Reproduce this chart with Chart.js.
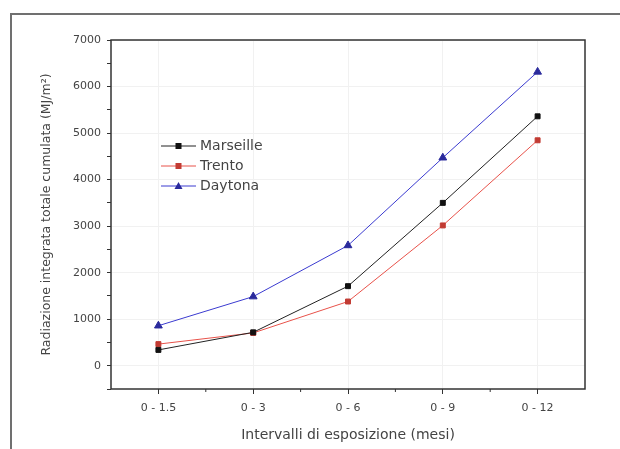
<!DOCTYPE html>
<html>
<head>
<meta charset="utf-8">
<script src="https://cdn.jsdelivr.net/npm/chart.js@4"></script>
<style>
  html, body { margin: 0; padding: 0; background: #fff; }
  #wrap { position: relative; width: 620px; height: 449px; overflow: hidden; }
  #frame { position: absolute; left: 10px; top: 13px; width: 640px; height: 460px;
           border-left: 2px solid #707070; border-top: 2px solid #707070; }
  canvas { position: absolute; left: 0; top: 0; }
</style>
</head>
<body>
<div id="wrap">
  <div id="frame"></div>
  <canvas id="chart" width="620" height="449"></canvas>
</div>
<script>
const categories = ['0 - 1.5', '0 - 3', '0 - 6', '0 - 9', '0 - 12'];
const marseille = [340, 718, 1710, 3500, 5360];
const trento = [465, 705, 1380, 3015, 4845];
const daytona = [860, 1486, 2585, 4470, 6315];

const textColor = '#444444';
const fontFamily = '"DejaVu Sans", Verdana, sans-serif';

// box round the plot, minor ticks and the inside legend
const extras = {
    id: 'extras',
    afterDraw(chart) {
        const ctx = chart.ctx;
        const a = chart.chartArea;
        const x = chart.scales.x;
        ctx.save();
        ctx.strokeStyle = '#333';
        ctx.lineWidth = 1.5;
        ctx.strokeRect(a.left, a.top, a.right - a.left, a.bottom - a.top);

        // minor ticks between categories
        ctx.lineWidth = 1;
        const step = x.getPixelForValue(1) - x.getPixelForValue(0);
        for (let i = 0; i < categories.length - 1; i++) {
            const px = x.getPixelForValue(i) + step / 2;
            ctx.beginPath();
            ctx.moveTo(px, a.bottom);
            ctx.lineTo(px, a.bottom + 3);
            ctx.stroke();
        }

        // legend
        ctx.font = '14px ' + fontFamily;
        ctx.textBaseline = 'middle';
        chart.data.datasets.forEach((ds, i) => {
            const y = a.top + 106 + i * 20;
            const x0 = a.left + 50;
            ctx.strokeStyle = ds.borderColor;
            ctx.lineWidth = 1;
            ctx.beginPath();
            ctx.moveTo(x0, y);
            ctx.lineTo(x0 + 35, y);
            ctx.stroke();
            ctx.fillStyle = ds.pointBackgroundColor;
            const cx = x0 + 17.5;
            if (ds.pointStyle === 'triangle') {
                ctx.beginPath();
                ctx.moveTo(cx, y - 4);
                ctx.lineTo(cx + 4, y + 3);
                ctx.lineTo(cx - 4, y + 3);
                ctx.closePath();
                ctx.fill();
            } else {
                ctx.fillRect(cx - 3, y - 3, 6, 6);
            }
            ctx.fillStyle = textColor;
            ctx.fillText(ds.label, x0 + 39, y);
        });
        ctx.restore();
    }
};

new Chart(document.getElementById('chart').getContext('2d'), {
    type: 'line',
    data: {
        labels: categories,
        datasets: [
            { label: 'Marseille', data: marseille, borderColor: '#222222', pointBackgroundColor: '#111111',
              pointBorderColor: '#111111', pointStyle: 'rect', pointRadius: 3.5, borderWidth: 1 },
            { label: 'Trento', data: trento, borderColor: '#e8524a', pointBackgroundColor: '#c23b33',
              pointBorderColor: '#c23b33', pointStyle: 'rect', pointRadius: 3.5, borderWidth: 1 },
            { label: 'Daytona', data: daytona, borderColor: '#3b3bd0', pointBackgroundColor: '#2a2a9c',
              pointBorderColor: '#2a2a9c', pointStyle: 'triangle', pointRadius: 4.5, borderWidth: 1 }
        ]
    },
    options: {
        responsive: false,
        animation: false,
        events: [],
        layout: { padding: { left: 0, top: 40, right: 35, bottom: 0 } },
        plugins: { legend: { display: false }, tooltip: { enabled: false } },
        scales: {
            x: {
                offset: true,
                afterFit: s => { s.height = 60; },
                grid: { offset: false, color: '#f1f1f1', tickLength: 5, tickColor: '#333', drawOnChartArea: true },
                border: { display: false },
                ticks: { color: textColor, padding: 8, font: { size: 11, family: fontFamily } },
                title: { display: true, text: 'Intervalli di esposizione (mesi)', color: textColor,
                         padding: { top: 0, bottom: 5 }, font: { size: 14, family: fontFamily } }
            },
            y: {
                min: -500,
                max: 7000,
                afterFit: s => { s.width = 111; },
                grid: {
                    color: c => (c.tick && c.tick.value % 1000 === 0 ? '#f1f1f1' : 'rgba(0,0,0,0)'),
                    tickColor: '#333',
                    tickLength: 4
                },
                border: { display: false },
                ticks: {
                    stepSize: 500,
                    autoSkip: false,
                    padding: 6,
                    color: textColor,
                    font: { size: 11, family: fontFamily },
                    callback: v => (v >= 0 && v % 1000 === 0 ? String(v) : '')
                },
                title: { display: true, text: 'Radiazione integrata totale cumulata (MJ/m²)', color: textColor,
                         padding: { top: 39, bottom: 0 }, font: { size: 12.5, family: fontFamily } }
            }
        }
    },
    plugins: [extras]
});
</script>
</body>
</html>
